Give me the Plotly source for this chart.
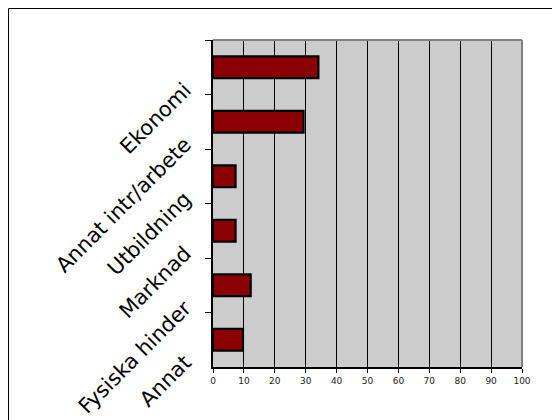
import plotly.graph_objects as go

categories = ["Ekonomi", "Annat intr/arbete", "Utbildning", "Marknad", "Fysiska hinder", "Annat"]
values = [34.1, 29.3, 7.3, 7.3, 12.2, 9.7]
x_ticks = [0, 10, 20, 30, 40, 50, 60, 70, 80, 90, 100]

W, H = 560, 420
L, R, T, B = 205, 46, 32, 61
pw, ph = W - L - R, H - T - B

fig = go.Figure(go.Bar(
    y=categories, x=values, orientation="h",
    marker=dict(color="#8B0000", line=dict(color="black", width=2.2)),
    width=0.4,
))

fig.update_layout(
    width=W, height=H,
    margin=dict(l=L, r=R, t=T, b=B, pad=0, autoexpand=False),
    paper_bgcolor="white", plot_bgcolor="#CCCCCC",
    showlegend=False,
    font=dict(family="DejaVu Sans", color="black"),
    shapes=[
        dict(type="rect", xref="paper", yref="paper",
             x0=(0.5 - L) / pw, x1=(545 - L) / pw,
             y0=-0.5, y1=(H - B - 0.5) / ph,
             line=dict(color="black", width=1), layer="below"),
        dict(type="line", xref="paper", yref="paper",
             x0=0, x1=1, y0=1, y1=1, line=dict(color="#808080", width=2)),
        dict(type="line", xref="paper", yref="paper",
             x0=1, x1=1, y0=0, y1=1, line=dict(color="#808080", width=2)),
    ],
)

fig.update_xaxes(
    range=[0, 100], tickvals=x_ticks, ticktext=[str(v) for v in x_ticks],
    showgrid=True, gridcolor="black", gridwidth=1,
    showline=True, linecolor="black", linewidth=1.5,
    ticks="outside", ticklen=4, tickcolor="black",
    tickfont=dict(size=9, family="DejaVu Sans", color="#222"),
    zeroline=False, fixedrange=True, automargin=False,
)

fig.update_yaxes(
    type="category", categoryorder="array", categoryarray=categories,
    autorange="reversed",
    tickson="boundaries", ticks="outside", ticklen=6, tickcolor="black",
    showgrid=False, showline=True, linecolor="black", linewidth=1.5,
    tickangle=-45, ticklabelshift=-20, ticklabelstandoff=22,
    tickfont=dict(size=21, family="DejaVu Sans", color="black"),
    fixedrange=True, automargin=False,
)

fig.write_html("out.html")
